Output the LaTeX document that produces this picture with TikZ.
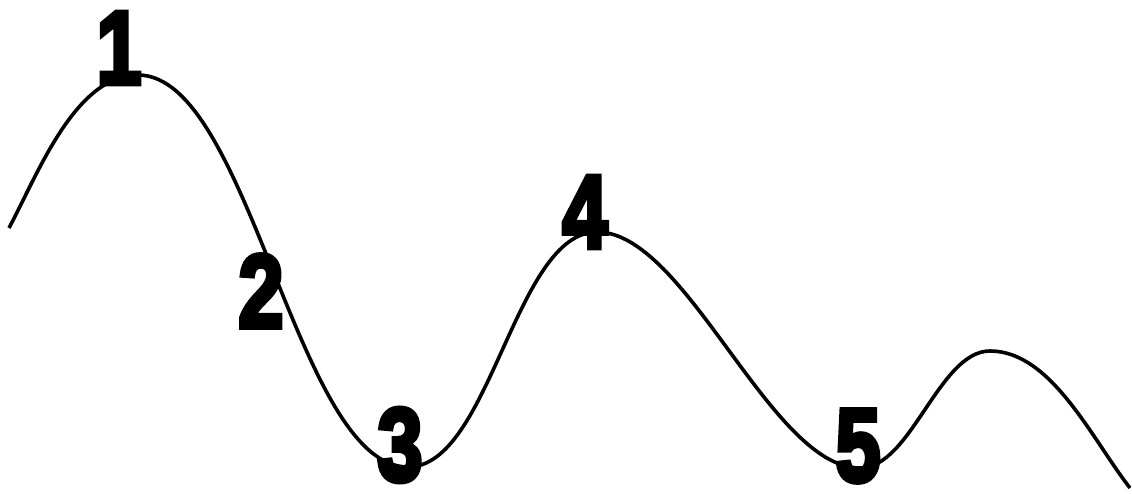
\documentclass[tikz,border=0pt]{standalone}
\usepackage{fontspec}
\newfontface\digitfont{Liberation Sans Bold}[FakeBold=5]
\usetikzlibrary{positioning}

\begin{document}
\begin{tikzpicture}[x=1pt, y=1pt,
    wave/.style={line width=3.6pt, black},
    digit/.style={font=\digitfont\fontsize{104}{104}\selectfont, inner sep=0pt, xscale=0.78}]

\useasboundingbox (0,0) rectangle (1132,495);

% Points of the wave (peaks and troughs)
\coordinate (w0) at (9,267);
\coordinate (w1) at (138,420);
\coordinate (w2) at (408,28);
\coordinate (w3) at (597,263);
\coordinate (w4) at (860,27);
\coordinate (w5) at (990,144);
\coordinate (w6) at (1130,7);

% The wave
\draw[wave] (w0) to[out=62,in=180,looseness=0.8] (w1)
    to[out=0,in=180,looseness=0.6] (w2)
    to[out=0,in=180,looseness=0.7] (w3)
    to[out=0,in=180,looseness=0.65] (w4)
    to[out=0,in=180,looseness=0.75] (w5)
    to[out=0,in=128,looseness=0.8] (w6);

% Numbers
\node[digit] (n1) at (119,447) {1};
\node[digit] (n2) at (261,204) {2};
\node[digit] (n3) at (400,50) {3};
\node[digit] (n4) at (585,283) {4};
\node[digit] (n5) at (858,49) {5};

\end{tikzpicture}
\end{document}
